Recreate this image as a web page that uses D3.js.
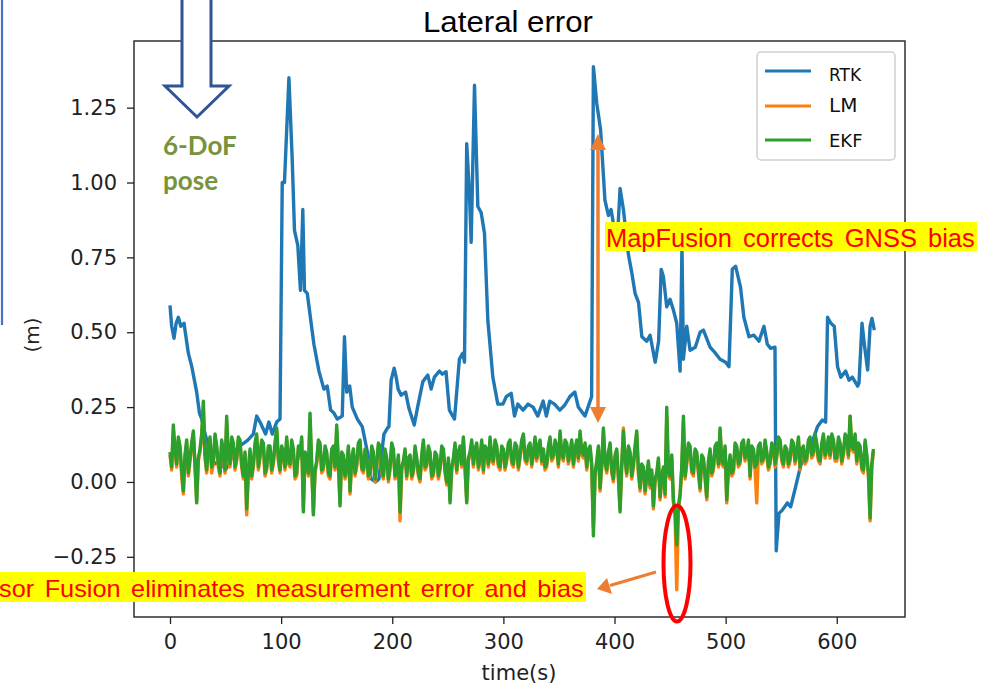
<!DOCTYPE html>
<html>
    <head>
        <meta charset="utf-8">
        <script src="https://d3js.org/d3.v7.min.js"></script>
        <style>
            body { margin: 0; background: #fff; }
        </style>

        <script>
            // RTK lateral error: time (s) and value (m)
            const rtkTime = [0, 1.5, 3.6, 5.5, 7.5, 9.7, 12.6, 16.5, 19.6, 24, 26.5, 28.6, 31, 35, 40, 45, 50, 54, 58, 63,
                70, 75, 78, 81, 86, 89, 92, 96, 99, 101, 103, 107, 110, 112, 115, 117.4, 119.5, 121, 123.5, 129.5,
                134, 138.5, 141.5, 144.5, 147.5, 150.6, 155, 157, 159, 161.7, 164, 168.6, 173, 176, 179, 181, 185, 188, 192.5, 195.7,
                197, 199, 201.7, 203.5, 205.3, 208, 212, 215, 219.8, 222.8, 227.5, 232, 235, 237.9, 242.4, 245, 248.4, 251.4, 256, 260.4,
                263.5, 265, 267, 269.5, 271, 274, 277, 280, 283, 286, 290.5, 295, 299.6, 302.6, 307, 310, 313, 317.7, 322.2, 326.7,
                331, 335.8, 338.7, 341.7, 346, 350.8, 355.3, 359.8, 364.3, 367.4, 373.4, 379.4, 381, 384, 387.5, 391.4, 394.5, 396.9, 400.5, 403,
                405, 408, 412.5, 415.5, 418.5, 421.6, 424.6, 429, 432, 436.6, 439.7, 442, 444, 447, 450, 453, 456, 459, 460.7, 462,
                465, 468, 472.7, 477, 480, 486, 490.8, 495, 500, 503, 506, 509, 513.4, 516.4, 521, 525.5, 530, 534.5, 537.5, 540.5,
                544.4, 545.5, 548, 551, 555.5, 558.5, 563, 567.6, 573.6, 578, 582.6, 587, 590, 591.7, 594.7, 597.7, 600.7, 603.7, 608, 611,
                614, 618.8, 620, 622.7, 624.8, 627.8, 630, 631.7, 633.8];
            const rtkValue = [0.59, 0.52, 0.48, 0.53, 0.55, 0.52, 0.53, 0.43, 0.385, 0.30, 0.23, 0.21, 0.17, 0.11, 0.06, 0.07, 0.04, 0.07, 0.10, 0.12,
                0.14, 0.16, 0.22, 0.20, 0.16, 0.20, 0.16, 0.20, 0.21, 1.00, 1.00, 1.35, 1.075, 0.84, 0.79, 0.64, 0.91, 0.64, 0.63, 0.46,
                0.37, 0.31, 0.32, 0.24, 0.23, 0.21, 0.22, 0.485, 0.30, 0.32, 0.25, 0.21, 0.185, 0.13, 0.073, 0.01, 0.00, 0.01, 0.16, 0.18,
                0.185, 0.34, 0.38, 0.35, 0.31, 0.29, 0.30, 0.246, 0.19, 0.25, 0.335, 0.357, 0.31, 0.35, 0.37, 0.36, 0.368, 0.24, 0.21, 0.41,
                0.43, 0.40, 1.13, 0.96, 0.80, 1.325, 0.92, 0.90, 0.83, 0.54, 0.35, 0.26, 0.26, 0.285, 0.296, 0.22, 0.26, 0.24, 0.26, 0.25,
                0.22, 0.27, 0.22, 0.27, 0.26, 0.24, 0.257, 0.285, 0.30, 0.25, 0.22, 0.285, 1.387, 1.265, 1.175, 0.94, 0.89, 0.91, 0.83, 0.84,
                0.98, 0.91, 0.76, 0.70, 0.63, 0.60, 0.485, 0.47, 0.49, 0.40, 0.47, 0.71, 0.685, 0.585, 0.61, 0.574, 0.53, 0.37, 0.785, 0.41,
                0.52, 0.44, 0.45, 0.50, 0.507, 0.45, 0.43, 0.41, 0.40, 0.385, 0.71, 0.72, 0.65, 0.55, 0.485, 0.49, 0.47, 0.52, 0.46, 0.446,
                0.45, -0.23, -0.105, -0.094, -0.07, -0.083, -0.016, 0.056, 0.095, 0.134, 0.184, 0.207, 0.20, 0.55, 0.53, 0.52, 0.385, 0.35, 0.37, 0.34,
                0.35, 0.32, 0.33, 0.53, 0.46, 0.374, 0.52, 0.546, 0.507];

            // LM and EKF are sampled every 1.5 s starting at t = 0 (one row = 30 s)
            const fusionStart = 0;
            const fusionStep = 1.5;
            const lmValue = [
                0.09,0.04, 0.17,0.10, 0.05,0.14, 0.11,0.02, -0.04,0.08, 0.13,0.02, 0.07,0.12, 0.16,0.05, -0.06,0.07, 0.10,0.15,
                0.24,0.08, 0.03,0.11, 0.14,0.03, 0.06,0.15, 0.11,0.05, 0.02,0.13, 0.09,0.03, 0.20,0.07, 0.05,0.14, 0.12,0.04,
                0.07,0.14, 0.13,0.05, 0.01,0.09, -0.11,0.03, 0.10,0.01, 0.05,0.12, 0.15,0.04, 0.08,0.13, 0.12,0.02, 0.04,0.11,
                0.11,0.03, 0.06,0.12, 0.17,0.07, 0.03,0.11, 0.09,0.04, 0.14,0.06, 0.05,0.13, 0.10,0.01, 0.02,0.11, 0.08,0.14,
                -0.09,0.09, 0.07,0.02, 0.21,0.05, -0.10,0.03, 0.06,0.13, 0.12,0.03, 0.04,0.11, 0.09,0.02, 0.01,0.10, 0.11,0.04,
                0.17,0.06, -0.07,0.09, 0.08,0.01, 0.04,0.11, -0.04,0.07, 0.10,0.02, 0.05,0.12, 0.13,0.04, 0.03,0.10, 0.07,0.01,
                0.02,0.11, 0.09,0.00, 0.05,0.12, 0.11,0.03, 0.01,0.10, 0.07,0.00, 0.04,0.12, 0.10,0.01, 0.02,0.08, -0.13,0.04,
                0.06,0.10, 0.01,0.07, 0.08,0.01, 0.03,0.11, 0.07,0.02, 0.00,0.08, 0.13,0.04, 0.05,0.11, 0.09,0.01, 0.02,0.09,
                0.08,0.01, 0.04,0.11, 0.10,0.03, -0.01,0.07, -0.06,0.04, 0.07,0.12, 0.03,0.09, 0.11,0.05, 0.14,0.04, -0.06,0.07,
                0.09,0.13, 0.05,0.10, 0.12,0.04, 0.07,0.13, 0.03,0.11, 0.10,0.05, 0.14,0.07, 0.06,0.13, 0.11,0.05, 0.04,0.11,
                0.10,0.04, 0.07,0.12, 0.13,0.06, 0.05,0.12, 0.11,0.04, 0.08,0.13, 0.15,0.07, 0.06,0.11, 0.12,0.05, 0.09,0.14,
                0.07,0.11, 0.13,0.06, 0.10,0.04, 0.05,0.11, 0.14,0.07, 0.08,0.13, 0.11,0.05, 0.16,0.08, 0.07,0.13, 0.12,0.06,
                0.09,0.13, 0.05,0.10, 0.13,0.07, 0.16,0.09, 0.08,0.12, 0.04,0.10, 0.11,0.05, -0.15,0.02, 0.06,0.11, -0.03,0.05,
                0.17,0.06, 0.03,0.09, 0.12,0.03, 0.00,0.08, 0.10,0.01, -0.09,0.05, 0.18,0.07, 0.02,0.11, 0.09,0.01, 0.05,0.11,
                0.16,0.03, -0.03,0.05, 0.04,-0.04, 0.01,0.06, -0.02,0.03, -0.09,0.00, 0.02,0.07, -0.06,0.01, 0.04,-0.05, 0.22,0.02,
                0.01,0.08, -0.07,-0.11, -0.36,-0.09, -0.05,0.04, 0.20,0.01, 0.06,0.12, 0.11,0.03, 0.02,0.10, 0.09,0.03, -0.03,0.08,
                0.07,0.01, -0.06,0.06, 0.10,0.02, 0.04,0.11, 0.12,0.05, 0.17,0.06, 0.05,0.11, -0.07,0.04, 0.08,0.02, 0.03,0.12,
                0.11,0.05, 0.06,0.12, 0.13,0.07, 0.08,0.13, 0.01,0.11, 0.10,0.04, -0.07,0.11, 0.12,0.06, 0.07,0.13, 0.09,0.04,
                0.06,0.12, 0.11,0.05, 0.08,0.14, 0.13,0.07, 0.05,0.11, 0.10,0.05, 0.07,0.13, 0.12,0.06, 0.09,0.14, 0.04,0.10,
                0.11,0.06, 0.07,0.13, 0.14,0.08, 0.09,0.15, 0.12,0.07, 0.06,0.12, 0.15,0.08, 0.10,0.14, 0.08,0.15, 0.13,0.07,
                0.07,0.14, 0.12,0.06, 0.09,0.15, 0.14,0.08, 0.22,0.11, 0.10,0.15, 0.06,0.12, 0.11,0.04, 0.03,0.13, 0.08,0.02, -0.13,0.05, 0.10];
            const ekfValue = [
                0.10,0.05, 0.19,0.11, 0.06,0.15, 0.12,0.04, -0.03,0.09, 0.14,0.03, 0.08,0.13, 0.17,0.06, -0.07,0.08, 0.11,0.16,
                0.27,0.09, 0.04,0.12, 0.15,0.05, 0.07,0.16, 0.12,0.06, 0.03,0.14, 0.10,0.04, 0.22,0.08, 0.06,0.15, 0.13,0.05,
                0.08,0.15, 0.14,0.06, 0.02,0.10, -0.09,0.04, 0.11,0.02, 0.06,0.13, 0.16,0.05, 0.09,0.14, 0.13,0.03, 0.05,0.12,
                0.12,0.04, 0.07,0.13, 0.18,0.08, 0.04,0.12, 0.10,0.05, 0.15,0.07, 0.06,0.14, 0.11,0.02, 0.03,0.12, 0.09,0.15,
                -0.10,0.10, 0.08,0.03, 0.23,0.06, -0.11,0.04, 0.07,0.14, 0.13,0.04, 0.05,0.12, 0.10,0.03, 0.02,0.11, 0.12,0.05,
                0.19,0.07, -0.08,0.10, 0.09,0.02, 0.05,0.12, -0.03,0.08, 0.11,0.03, 0.06,0.13, 0.14,0.05, 0.04,0.11, 0.08,0.02,
                0.03,0.12, 0.10,0.01, 0.06,0.13, 0.12,0.04, 0.02,0.11, 0.08,0.01, 0.05,0.13, 0.11,0.02, 0.03,0.09, -0.10,0.05,
                0.07,0.11, 0.02,0.08, 0.09,0.02, 0.04,0.12, 0.08,0.03, 0.01,0.09, 0.14,0.05, 0.06,0.12, 0.10,0.02, 0.03,0.10,
                0.09,0.02, 0.05,0.12, 0.11,0.04, 0.00,0.08, -0.07,0.05, 0.08,0.13, 0.04,0.10, 0.12,0.06, 0.15,0.05, -0.07,0.08,
                0.10,0.14, 0.06,0.11, 0.13,0.05, 0.08,0.14, 0.04,0.12, 0.11,0.06, 0.15,0.08, 0.07,0.14, 0.12,0.06, 0.05,0.12,
                0.11,0.05, 0.08,0.13, 0.14,0.07, 0.06,0.13, 0.12,0.05, 0.09,0.14, 0.16,0.08, 0.07,0.12, 0.13,0.06, 0.10,0.15,
                0.08,0.12, 0.14,0.07, 0.11,0.05, 0.06,0.12, 0.15,0.08, 0.09,0.14, 0.12,0.06, 0.17,0.09, 0.08,0.14, 0.13,0.07,
                0.10,0.14, 0.06,0.11, 0.14,0.08, 0.17,0.10, 0.09,0.13, 0.05,0.11, 0.12,0.06, -0.18,0.03, 0.07,0.12, -0.02,0.06,
                0.18,0.07, 0.04,0.10, 0.13,0.04, 0.01,0.09, 0.11,0.02, -0.10,0.06, 0.17,0.08, 0.03,0.12, 0.10,0.02, 0.06,0.12,
                0.17,0.04, -0.02,0.06, 0.05,-0.03, 0.02,0.07, -0.01,0.04, -0.08,0.01, 0.03,0.08, -0.05,0.02, 0.05,-0.04, 0.25,0.03,
                0.02,0.09, -0.06,-0.10, -0.21,-0.08, -0.04,0.05, 0.22,0.02, 0.07,0.13, 0.12,0.04, 0.03,0.11, 0.10,0.04, -0.02,0.09,
                0.08,0.02, -0.05,0.07, 0.11,0.03, 0.05,0.12, 0.13,0.06, 0.18,0.07, 0.06,0.12, -0.06,0.05, 0.09,0.03, 0.04,0.13,
                0.12,0.06, 0.07,0.13, 0.14,0.08, 0.09,0.14, 0.02,0.12, 0.11,0.05, 0.06,0.12, 0.13,0.07, 0.08,0.14, 0.10,0.05,
                0.07,0.13, 0.12,0.06, 0.09,0.15, 0.14,0.08, 0.06,0.12, 0.11,0.06, 0.08,0.14, 0.13,0.07, 0.10,0.15, 0.05,0.11,
                0.12,0.07, 0.08,0.14, 0.15,0.09, 0.10,0.16, 0.13,0.08, 0.07,0.13, 0.16,0.09, 0.11,0.15, 0.09,0.16, 0.14,0.08,
                0.08,0.15, 0.13,0.07, 0.10,0.16, 0.15,0.09, 0.22,0.12, 0.11,0.16, 0.07,0.13, 0.12,0.05, 0.04,0.14, 0.09,0.03, -0.12,0.06, 0.11];

            const seriesNames = ["RTK", "LM", "EKF"];
            const seriesColors = ["#1f77b4", "#ff7f0e", "#2ca02c"];
            const yTicks = [-0.25, 0, 0.25, 0.5, 0.75, 1.0, 1.25];
            const xTicks = [0, 100, 200, 300, 400, 500, 600];

            function makeSVG() {

                const width = 996;
                const height = 687;
                const plot = { left: 134, top: 41, right: 905, bottom: 617 };
                const tickFont = "'DejaVu Sans', sans-serif";
                const arial = "'Liberation Sans', Arial, sans-serif";

                var svg = d3.select("body").append("svg")
                            .attr("width", width)
                            .attr("height", height);

                // SCALES /////////////////////////////////////////////

                var xSc = d3.scaleLinear().domain([-32.4, 661.4]).range([plot.left, plot.right]);
                var ySc = d3.scaleLinear().domain([-0.451, 1.4726]).range([plot.bottom, plot.top]);

                // AXES ///////////////////////////////////////////////

                var xg = svg.append("g")
                            .attr("transform", `translate(0,${plot.bottom})`)
                            .call(d3.axisBottom(xSc).tickValues(xTicks).tickSize(7).tickPadding(10).tickFormat(d3.format("d")));

                var yg = svg.append("g")
                            .attr("transform", `translate(${plot.left},0)`)
                            .call(d3.axisLeft(ySc).tickValues(yTicks).tickSize(7).tickPadding(10)
                                    .tickFormat(d => d3.format(".2f")(d).replace("-", "\u2212")));

                [xg, yg].forEach(g => {
                    g.select(".domain").remove();
                    g.selectAll("line").attr("stroke", "#222").attr("stroke-width", 1.3);
                    g.selectAll("text").attr("fill", "#222").style("font-family", tickFont).style("font-size", "21px");
                });

                // LINES //////////////////////////////////////////////

                var lnMkr = d3.line().x(d => xSc(d[0])).y(d => ySc(d[1]));

                var rtk = rtkTime.map((t, i) => [t, rtkValue[i]]);
                var lm = lmValue.map((v, i) => [fusionStart + i * fusionStep, v]);
                var ekf = ekfValue.map((v, i) => [fusionStart + i * fusionStep, v]);

                [rtk, lm, ekf].forEach((ds, i) => {
                    svg.append("path")
                       .attr("d", lnMkr(ds))
                       .attr("fill", "none")
                       .attr("stroke", seriesColors[i])
                       .attr("stroke-width", 3.4)
                       .attr("stroke-linejoin", "round");
                });

                // frame
                svg.append("rect")
                   .attr("x", plot.left).attr("y", plot.top)
                   .attr("width", plot.right - plot.left).attr("height", plot.bottom - plot.top)
                   .attr("fill", "none").attr("stroke", "#222").attr("stroke-width", 1.4);

                // TITLE / LABELS /////////////////////////////////////

                svg.append("text").attr("x", 423).attr("y", 32)
                   .style("font-family", arial).style("font-size", "29px")
                   .attr("textLength", 170).attr("lengthAdjust", "spacingAndGlyphs")
                   .text("Lateral error");

                svg.append("text").attr("x", 519).attr("y", 680).attr("text-anchor", "middle")
                   .style("font-family", tickFont).style("font-size", "21px").attr("fill", "#222")
                   .text("time(s)");

                svg.append("text").attr("transform", "translate(39,335) rotate(-90)").attr("text-anchor", "middle")
                   .style("font-family", tickFont).style("font-size", "20px").attr("fill", "#222")
                   .text("(m)");

                // LEGEND /////////////////////////////////////////////

                var lg = svg.append("g");
                lg.append("rect").attr("x", 757).attr("y", 52).attr("width", 138).attr("height", 108)
                  .attr("rx", 4).attr("fill", "#fff").attr("fill-opacity", 0.8)
                  .attr("stroke", "#d0d0d0").attr("stroke-width", 1.5);
                const legY = [71, 106, 140];
                const legTextY = [81, 112, 147];
                const legSize = [17, 20, 18];
                seriesNames.forEach((n, i) => {
                    lg.append("line").attr("x1", 765).attr("x2", 811).attr("y1", legY[i]).attr("y2", legY[i])
                      .attr("stroke", seriesColors[i]).attr("stroke-width", 3.2);
                    lg.append("text").attr("x", 829).attr("y", legTextY[i])
                      .style("font-family", tickFont).style("font-size", legSize[i] + "px").attr("fill", "#111")
                      .text(n);
                });

                // ANNOTATIONS ////////////////////////////////////////

                const orange = "#ED7D31";

                // left edge blue line
                svg.append("line").attr("x1", 2).attr("x2", 2).attr("y1", 0).attr("y2", 325)
                   .attr("stroke", "#4472C4").attr("stroke-width", 2.2);

                // hollow down arrow
                svg.append("path")
                   .attr("d", "M182,0 L182,86 L165,86 L197,117 L229,86 L211,86 L211,0")
                   .attr("fill", "#fff").attr("stroke", "#2F5597").attr("stroke-width", 3);

                svg.append("text").attr("x", 163).attr("y", 155)
                   .style("font-family", "Lato, 'Open Sans', sans-serif").style("font-weight", "bold").style("font-size", "26px")
                   .attr("fill", "#77933C").text("6-DoF");
                svg.append("text").attr("x", 163).attr("y", 190)
                   .style("font-family", "Lato, 'Open Sans', sans-serif").style("font-weight", "bold").style("font-size", "26px")
                   .attr("fill", "#77933C").text("pose");

                // orange double arrow
                svg.append("line").attr("x1", 598).attr("x2", 598).attr("y1", 146).attr("y2", 410)
                   .attr("stroke", orange).attr("stroke-width", 3.5);
                svg.append("path").attr("d", "M598,134 L590,150 L606,150 Z").attr("fill", orange);
                svg.append("path").attr("d", "M598,423 L590,407 L606,407 Z").attr("fill", orange);

                // orange arrow pointing left
                svg.append("line").attr("x1", 656).attr("y1", 572).attr("x2", 610).attr("y2", 585.5)
                   .attr("stroke", orange).attr("stroke-width", 3);
                svg.append("path").attr("d", "M597,589 L607,578 L612,594 Z").attr("fill", orange);

                // red ellipse
                svg.append("ellipse").attr("cx", 677).attr("cy", 563.5).attr("rx", 13.5).attr("ry", 58)
                   .attr("fill", "none").attr("stroke", "#FF0000").attr("stroke-width", 4);

                // yellow labels: glyphs are stretched so that one word has its
                // width in the picture, the remaining room goes between words
                function label(x0, x1, yTop, yBot, base, size, txt, refWord, refWidth) {
                    svg.append("rect").attr("x", x0).attr("y", yTop).attr("width", x1 - x0).attr("height", yBot - yTop)
                       .attr("fill", "#FFFF00");
                    var g = svg.append("g");
                    var probe = g.append("text").style("font-family", arial).style("font-size", size + "px").text(refWord);
                    var sx = refWidth / probe.node().getComputedTextLength();
                    probe.remove();
                    var t = g.append("text").attr("x", 0).attr("y", 0)
                             .style("font-family", arial).style("font-size", size + "px")
                             .attr("fill", "#FF0000").text(txt);
                    var natural = t.node().getComputedTextLength();
                    var gaps = txt.split(" ").length - 1;
                    var room = (x1 - x0 - 3) / sx - natural;
                    t.style("word-spacing", Math.max(0, room / gaps) + "px");
                    g.attr("transform", `translate(${x0 + 1},${base}) scale(${sx},1)`);
                }
                label(605, 977, 222, 251, 246.5, 25, "MapFusion corrects GNSS bias", "MapFusion", 126);
                label(-2, 586, 572, 602, 596.5, 23, "sor Fusion eliminates measurement error and bias", "Fusion", 76);
            }
        </script>
    </head>
    <body onload="makeSVG()">

    </body>
</html>
